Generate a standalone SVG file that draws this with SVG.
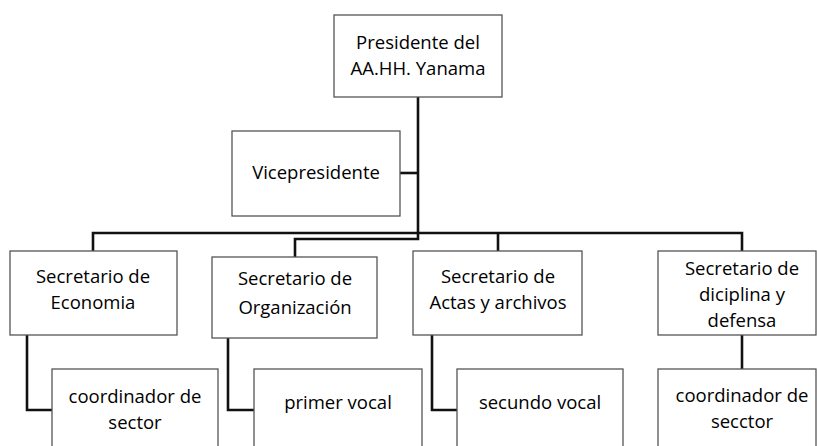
<svg xmlns="http://www.w3.org/2000/svg" width="817" height="446" viewBox="0 0 817 446">
<style>
.box{fill:#fff;stroke:#555;stroke-width:1.3}
.t{font-family:"Open Sans","Noto Sans",sans-serif;font-size:18.5px;fill:#000;text-anchor:middle}
.c{fill:none;stroke:#111;stroke-width:2.6}
</style>
<rect width="817" height="446" fill="#fff"/>
<g id="connectors">
<path class="c" d="M418 97V239H295V257"/>
<path class="c" d="M400 173H418"/>
<path class="c" d="M93 251V233H742V251"/>
<path class="c" d="M498 233V251"/>
<path class="c" d="M27 335V410H52"/>
<path class="c" d="M228 338V410H254"/>
<path class="c" d="M432 335V410H457"/>
<path class="c" d="M742 335V369"/>
</g>
<g id="presidente"><rect class="box" x="334" y="15" width="168" height="82"/><text class="t" x="418" y="49">Presidente del</text><text class="t" x="418" y="75">AA.HH. Yanama</text></g>
<g id="vicepresidente"><rect class="box" x="232" y="131" width="168" height="85"/><text class="t" x="316" y="179">Vicepresidente</text></g>
<g id="sec-economia"><rect class="box" x="10" y="251" width="167" height="84"/><text class="t" x="93" y="283">Secretario de</text><text class="t" x="93" y="309">Economia</text></g>
<g id="sec-organizacion"><rect class="box" x="212" y="257" width="165" height="81"/><text class="t" x="295" y="285">Secretario de</text><text class="t" x="295" y="314">Organización</text></g>
<g id="sec-actas"><rect class="box" x="413" y="251" width="169" height="84"/><text class="t" x="498" y="283">Secretario de</text><text class="t" x="498" y="309">Actas y archivos</text></g>
<g id="sec-disciplina"><rect class="box" x="658" y="251" width="158" height="84"/><text class="t" x="742" y="275">Secretario de</text><text class="t" x="742" y="301">diciplina y</text><text class="t" x="742" y="327">defensa</text></g>
<g id="coord-sector"><rect class="box" x="52" y="369" width="166" height="90"/><text class="t" x="135" y="403">coordinador de</text><text class="t" x="135" y="429">sector</text></g>
<g id="primer-vocal"><rect class="box" x="254" y="369" width="168" height="90"/><text class="t" x="338" y="409">primer vocal</text></g>
<g id="secundo-vocal"><rect class="box" x="457" y="369" width="166" height="90"/><text class="t" x="540" y="409">secundo vocal</text></g>
<g id="coord-secctor"><rect class="box" x="658" y="369" width="158" height="90"/><text class="t" x="742" y="402">coordinador de</text><text class="t" x="742" y="428">secctor</text></g>
</svg>
